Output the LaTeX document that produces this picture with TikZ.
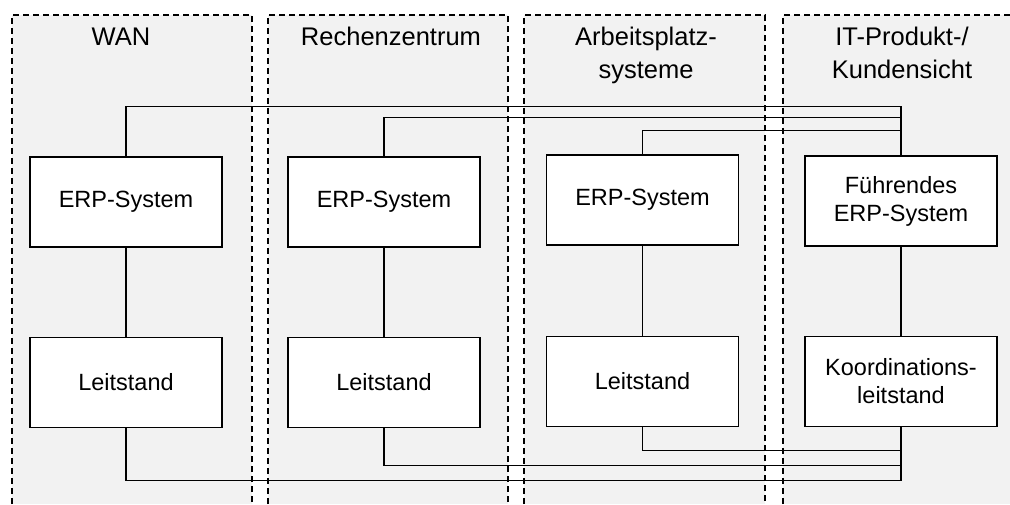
\documentclass[tikz,border=0pt]{standalone}
\usepackage{fontspec}
\setmainfont{Liberation Sans}
\usetikzlibrary{calc}
\definecolor{panelgrey}{HTML}{F2F2F2}
\tikzset{
  panelfill/.style={fill=panelgrey, draw=none},
  panelline/.style={draw=black, line width=1.3pt, dash pattern=on 6pt off 4pt},
  sysbox/.style={draw=black, fill=white, line width=1.5pt, minimum width=192pt,
    minimum height=90pt, inner sep=0pt, align=center,
    font=\fontsize{23.5}{28}\selectfont},
  paneltitle/.style={align=center, inner sep=0pt, anchor=base,
    font=\fontsize{25.5}{33}\selectfont},
  link/.style={draw=black, line width=1.5pt},
}
\begin{document}
\begin{tikzpicture}[x=1pt, y=-1pt]
  \useasboundingbox (0,0) rectangle (1010,504);
  % column backgrounds
  \fill[panelfill] (12,15) rectangle (252,504);
  \fill[panelfill] (268,15) rectangle (508,504);
  \fill[panelfill] (524,15) rectangle (765,504);
  \fill[panelfill] (783,15) rectangle (1010,504);
  % column borders, open at the bottom
  \draw[panelline] (12,504) -- (12,15) -- (252,15) -- (252,504);
  \draw[panelline] (268,504) -- (268,15) -- (508,15) -- (508,504);
  \draw[panelline] (524,504) -- (524,15) -- (765,15) -- (765,504);
  \draw[panelline] (783,504) -- (783,15) -- (1012,15);

  % column headings (two-line headings sit on the baseline of their last line)
  \node[paneltitle] (t1) at (121,45) {WAN};
  \node[paneltitle] (t2) at (391,45) {Rechenzentrum};
  \node[paneltitle] (t3) at (646,78) {Arbeitsplatz-\\systeme};
  \node[paneltitle] (t4) at (902,78) {IT-Produkt-/\\Kundensicht};

  % systems
  \node[sysbox] (e1) at (126,202) {ERP-System};
  \node[sysbox] (e2) at (384,202) {ERP-System};
  \node[sysbox] (e3) at (642.5,200) {ERP-System};
  \node[sysbox] (e4) at (901,201) {Führendes\\ERP-System};

  \node[sysbox] (l1) at (126,382.5) {Leitstand};
  \node[sysbox] (l2) at (384,382.5) {Leitstand};
  \node[sysbox] (l3) at (642.5,381.5) {Leitstand};
  \node[sysbox] (l4) at (901,381.5) {Koordinations-\\leitstand};

  % vertical links inside each column
  \draw[link] (e1) -- (l1);
  \draw[link] (e2) -- (l2);
  \draw[link] (e3) -- (l3);
  \draw[link] (e4) -- (l4);

  % links to the leading ERP system
  \draw[link] (e1.north) -- ++(0,-50) -| (e4.north);
  \draw[link] (e2.north) -- ++(0,-39) -| (e4.north);
  \draw[link] (e3.north) -- ++(0,-24) -| (e4.north);

  % links to the coordinating control station
  \draw[link] (l1.south) -- ++(0,52) -| (l4.south);
  \draw[link] (l2.south) -- ++(0,37) -| (l4.south);
  \draw[link] (l3.south) -- ++(0,23) -| (l4.south);
\end{tikzpicture}
\end{document}
